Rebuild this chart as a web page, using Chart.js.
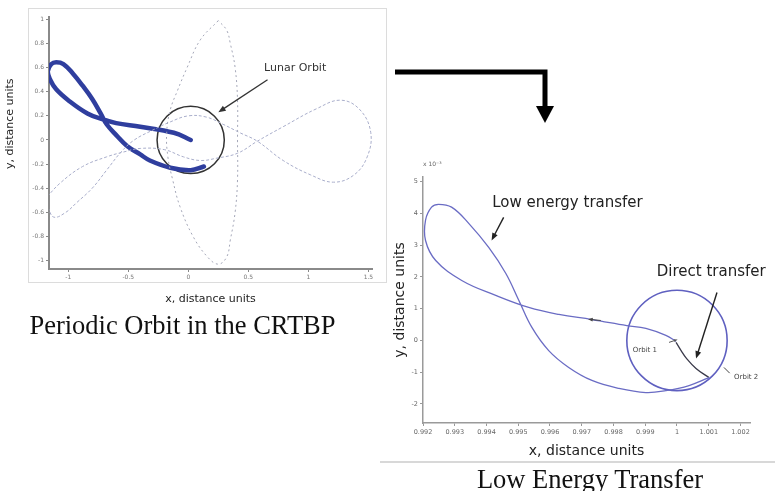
<!DOCTYPE html>
<html><head><meta charset="utf-8">
<script src="https://cdn.jsdelivr.net/npm/chart.js@4"></script>
<style>
html,body{margin:0;padding:0;background:#fff;}
body{width:775px;height:491px;position:relative;overflow:hidden;font-family:'DejaVu Sans',sans-serif;}
#leftFrame{position:absolute;left:28px;top:8px;width:357px;height:273px;border:1px solid #dcdcdc;}
#leftWrap{position:absolute;left:0;top:0;width:390px;height:310px;}
#rightWrap{position:absolute;left:380px;top:160px;width:395px;height:300px;}
#sep{position:absolute;left:380px;top:461px;width:395px;height:2px;background:#d8d8d8;}
.cap{position:absolute;font-family:'Liberation Serif','Times New Roman',serif;font-size:26.5px;line-height:26px;color:#111;white-space:nowrap;text-align:center;}
#bigArrow{position:absolute;left:0;top:0;}
</style></head><body>
<div id="leftFrame"></div>
<div id="leftWrap"><canvas id="leftChart" width="390" height="310"></canvas></div>
<div id="rightWrap"><canvas id="rightChart" width="395" height="300"></canvas></div>
<div id="sep"></div>
<svg id="bigArrow" width="775" height="491"><path d="M395 72 H545 V108" stroke="#000" stroke-width="5" fill="none"/><polygon points="536,106 554,106 545,123" fill="#000"/></svg>
<div class="cap" style="left:0;width:365px;top:312px;">Periodic Orbit in the CRTBP</div>
<div class="cap" style="left:380px;width:420px;top:466px;">Low Energy Transfer</div>
<script>
// ---------- Left panel: Periodic Orbit in the CRTBP ----------
const leftXTicks = [-1, -0.5, 0, 0.5, 1, 1.5];
const leftXTickLabels = ['-1', '-0.5', '0', '0.5', '1', '1.5'];
const leftYTicks = [1, 0.8, 0.6, 0.4, 0.2, 0, -0.2, -0.4, -0.6, -0.8, -1];
const leftYTickLabels = ['1', '0.8', '0.6', '0.4', '0.2', '0', '-0.2', '-0.4', '-0.6', '-0.8', '-1'];

// thick periodic orbit (figure-eight)
const periodicOrbitX = [0.02, -0.12, -0.4, -0.6, -0.71, -0.84, -1.0, -1.1, -1.15, -1.17, -1.14, -1.1, -1.04, -0.96, -0.88, -0.8, -0.73, -0.68, -0.6, -0.51, -0.4, -0.32, -0.15, 0.02, 0.13];
const periodicOrbitY = [0.0, 0.06, 0.11, 0.14, 0.17, 0.22, 0.33, 0.42, 0.5, 0.57, 0.63, 0.645, 0.63, 0.55, 0.45, 0.34, 0.22, 0.13, 0.04, -0.05, -0.12, -0.17, -0.23, -0.25, -0.22];

// faint lens-shaped orbit
const lensX = [0.25, 0.1, -0.01, -0.09, -0.15, -0.18, -0.17, -0.13, -0.07, 0.04, 0.16, 0.25, 0.32, 0.35, 0.39, 0.41, 0.41, 0.41, 0.39, 0.35, 0.32, 0.25];
const lensY = [0.99, 0.83, 0.6, 0.41, 0.25, 0.06, -0.14, -0.33, -0.55, -0.8, -0.97, -1.03, -0.97, -0.83, -0.6, -0.33, 0.0, 0.33, 0.6, 0.8, 0.91, 0.99];

// faint figure-eight orbit reaching to the right
const figure8X = [-1.17, -1.12, -1.02, -0.93, -0.8, -0.68, -0.56, -0.45, -0.3, -0.15, 0.0, 0.15, 0.29, 0.43, 0.575, 0.79, 1.02, 1.21, 1.38, 1.49, 1.52, 1.43, 1.27, 1.07, 0.79, 0.575, 0.41, 0.24, 0.1, -0.04, -0.2, -0.4, -0.54, -0.68, -0.88, -1.07, -1.2];
const figure8Y = [-0.56, -0.64, -0.6, -0.52, -0.4, -0.25, -0.1, 0.0, 0.08, 0.15, 0.2, 0.19, 0.13, 0.06, -0.01, -0.17, -0.29, -0.35, -0.29, -0.14, 0.06, 0.25, 0.33, 0.26, 0.11, -0.01, -0.11, -0.15, -0.17, -0.14, -0.08, -0.07, -0.1, -0.14, -0.22, -0.36, -0.5];

const lunarOrbitCenter = [0.02, 0.0];
const lunarOrbitRadius = 0.28;

// ---------- Right panel: Low Energy Transfer ----------
const rightXTicks = [0.992, 0.993, 0.994, 0.995, 0.996, 0.997, 0.998, 0.999, 1, 1.001, 1.002];
const rightXTickLabels = ['0.992', '0.993', '0.994', '0.995', '0.996', '0.997', '0.998', '0.999', '1', '1.001', '1.002'];
const rightYTicks = [5, 4, 3, 2, 1, 0, -1, -2];
const rightYTickLabels = ['5', '4', '3', '2', '1', '0', '-1', '-2'];

// y values in units of 1e-3
const lowEnergyX = [0.99997, 0.99965, 0.99902, 0.99842, 0.99732, 0.99628, 0.99533, 0.99429, 0.99322, 0.9924, 0.99208, 0.99208, 0.99227, 0.99249, 0.9929, 0.99344, 0.99407, 0.99461, 0.99502, 0.99543, 0.99596, 0.99659, 0.99732, 0.99817, 0.99902, 0.99965, 1.00038, 1.00101];
const lowEnergyY = [-0.03, 0.16, 0.38, 0.47, 0.66, 0.82, 1.04, 1.42, 1.89, 2.52, 3.15, 3.79, 4.2, 4.29, 4.2, 3.69, 2.93, 2.11, 1.26, 0.41, -0.32, -0.85, -1.26, -1.51, -1.64, -1.58, -1.42, -1.17];

const directX = [0.99997, 1.00013, 1.00028, 1.0006, 1.00101];
const directY = [-0.06, -0.32, -0.54, -0.88, -1.17];

const transferCircleCenter = [1.0, 0.0];
const transferCircleRadius = 0.00158;

// ---------- helpers ----------
const pts = (xs, ys) => xs.map((x, i) => ({x: x, y: ys[i]}));

const notesPlugin = {
  id: 'notes',
  afterDatasetsDraw(chart, args, opts) {
    const ctx = chart.ctx, sx = chart.scales.x, sy = chart.scales.y;
    const P = (p) => [sx.getPixelForValue(p[0]), sy.getPixelForValue(p[1])];
    ctx.save();
    (opts.lines || []).forEach(l => {
      const a = P(l.from), b = P(l.to);
      ctx.strokeStyle = l.color; ctx.lineWidth = l.width;
      ctx.beginPath(); ctx.moveTo(a[0], a[1]); ctx.lineTo(b[0], b[1]); ctx.stroke();
    });
    (opts.arrows || []).forEach(a => {
      const p1 = P(a.from), p2 = P(a.to);
      const ang = Math.atan2(p2[1] - p1[1], p2[0] - p1[0]);
      ctx.strokeStyle = a.color; ctx.fillStyle = a.color; ctx.lineWidth = a.width;
      ctx.beginPath(); ctx.moveTo(p1[0], p1[1]);
      ctx.lineTo(p2[0] - Math.cos(ang) * a.head * 0.7, p2[1] - Math.sin(ang) * a.head * 0.7); ctx.stroke();
      ctx.beginPath(); ctx.moveTo(p2[0], p2[1]);
      ctx.lineTo(p2[0] - a.head * Math.cos(ang - 0.38), p2[1] - a.head * Math.sin(ang - 0.38));
      ctx.lineTo(p2[0] - a.head * Math.cos(ang + 0.38), p2[1] - a.head * Math.sin(ang + 0.38));
      ctx.closePath(); ctx.fill();
    });
    (opts.texts || []).forEach(t => {
      const p = P(t.at);
      ctx.fillStyle = t.color;
      ctx.font = (t.weight || 'normal') + ' ' + t.size + 'px "DejaVu Sans", sans-serif';
      ctx.textAlign = t.align || 'center'; ctx.textBaseline = 'middle';
      ctx.fillText(t.text, p[0], p[1]);
    });
    ctx.restore();
  }
};

function circleRadius(center, r) {
  return (c) => {
    const s = c.chart.scales.x;
    return Math.abs(s.getPixelForValue(center[0] + r) - s.getPixelForValue(center[0]));
  };
}

function axis(opts) {
  return {
    type: 'linear', min: opts.min, max: opts.max,
    afterBuildTicks: (s) => { s.ticks = opts.ticks.map(v => ({value: v})); },
    afterFit: (s) => { if (opts.w !== undefined) s.width = opts.w; if (opts.h !== undefined) s.height = opts.h; },
    ticks: {
      autoSkip: false, maxRotation: 0, minRotation: 0, padding: 2,
      color: opts.tickColor, font: {size: opts.tickSize, family: 'DejaVu Sans'},
      callback: (v) => { const i = opts.ticks.indexOf(v); return i >= 0 ? opts.labels[i] : ''; }
    },
    grid: {drawOnChartArea: false, drawTicks: true, tickLength: 3, color: opts.gridColor},
    border: {color: opts.borderColor, width: opts.borderWidth},
    title: {display: true, text: opts.title, color: '#222', font: {size: opts.titleSize, family: 'DejaVu Sans'}, padding: opts.titlePad}
  };
}

Chart.defaults.animation = false;

new Chart(document.getElementById('leftChart'), {
  type: 'scatter',
  plugins: [notesPlugin],
  data: {
    datasets: [
      {label: 'lens', data: pts(lensX, lensY), showLine: true, tension: 0.4, pointRadius: 0, borderColor: '#a4a7b8', borderWidth: 1, borderDash: [2, 3]},
      {label: 'figure8', data: pts(figure8X, figure8Y), showLine: true, tension: 0.4, pointRadius: 0, borderColor: '#a9aecb', borderWidth: 1, borderDash: [3, 2]},
      {label: 'periodic orbit', data: pts(periodicOrbitX, periodicOrbitY), showLine: true, tension: 0.4, pointRadius: 0, borderColor: '#2f3e9e', borderWidth: 4.5, borderCapStyle: 'round'},
      {label: 'lunar orbit', data: [{x: lunarOrbitCenter[0], y: lunarOrbitCenter[1]}], showLine: false,
       pointRadius: circleRadius(lunarOrbitCenter, lunarOrbitRadius), pointBackgroundColor: 'rgba(0,0,0,0)', pointBorderColor: '#333', pointBorderWidth: 1.5}
    ]
  },
  options: {
    responsive: false, devicePixelRatio: 1, events: [],
    layout: {padding: {left: 0, right: 18, top: 17, bottom: 0}},
    plugins: {
      legend: {display: false}, tooltip: {enabled: false},
      notes: {
        texts: [{at: [0.89, 0.6], text: 'Lunar Orbit', size: 11, color: '#333'}],
        arrows: [{from: [0.66, 0.5], to: [0.25, 0.23], color: '#333', width: 1.3, head: 8}]
      }
    },
    scales: {
      x: axis({min: -1.16, max: 1.53, ticks: leftXTicks, labels: leftXTickLabels, h: 41, tickColor: '#777', tickSize: 6, gridColor: '#888', borderColor: '#8a8a8a', borderWidth: 2, title: 'x, distance units', titleSize: 11, titlePad: {top: 0, bottom: 4}}),
      y: axis({min: -1.07, max: 1.02, ticks: leftYTicks, labels: leftYTickLabels, w: 49, tickColor: '#777', tickSize: 6, gridColor: '#888', borderColor: '#8a8a8a', borderWidth: 2, title: '           y, distance units', titleSize: 11, titlePad: {top: 4, bottom: 0}})
    }
  }
});

new Chart(document.getElementById('rightChart'), {
  type: 'scatter',
  plugins: [notesPlugin],
  data: {
    datasets: [
      {label: 'low energy transfer', data: pts(lowEnergyX, lowEnergyY), showLine: true, tension: 0.4, pointRadius: 0, borderColor: '#6a6cc4', borderWidth: 1.3},
      {label: 'direct transfer', data: pts(directX, directY), showLine: true, tension: 0.4, pointRadius: 0, borderColor: '#3a3a4a', borderWidth: 1.3},
      {label: 'orbit 2', data: [{x: transferCircleCenter[0], y: transferCircleCenter[1]}], showLine: false,
       pointRadius: circleRadius(transferCircleCenter, transferCircleRadius), pointBackgroundColor: 'rgba(0,0,0,0)', pointBorderColor: '#5f60c0', pointBorderWidth: 1.6}
    ]
  },
  options: {
    responsive: false, devicePixelRatio: 1, events: [],
    layout: {padding: {left: 8, right: 25, top: 17, bottom: 0}},
    plugins: {
      legend: {display: false}, tooltip: {enabled: false},
      notes: {
        texts: [
          {at: [0.99655, 4.32], text: 'Low energy transfer', size: 15, color: '#222'},
          {at: [1.00108, 2.15], text: 'Direct transfer', size: 15, color: '#222'},
          {at: [0.99899, -0.32], text: 'Orbit 1', size: 7, color: '#444'},
          {at: [1.00218, -1.17], text: 'Orbit 2', size: 7, color: '#444'},
          {at: [0.992, 5.55], text: 'x 10\u207B\u00B3', size: 6, color: '#666', align: 'left'}
        ],
        arrows: [
          {from: [0.99454, 3.88], to: [0.99416, 3.15], color: '#222', width: 1.4, head: 8},
          {from: [1.00126, 1.51], to: [1.0006, -0.57], color: '#222', width: 1.4, head: 8},
          {from: [0.9976, 0.63], to: [0.9972, 0.67], color: '#444', width: 1, head: 5},
          {from: [0.99975, -0.06], to: [1.00002, 0.03], color: '#555', width: 1, head: 4}
        ],
        lines: [{from: [1.00148, -0.85], to: [1.00166, -1.03], color: '#444', width: 1}]
      }
    },
    scales: {
      x: axis({min: 0.992, max: 1.0023, ticks: rightXTicks, labels: rightXTickLabels, h: 37, tickColor: '#666', tickSize: 6.5, gridColor: '#999', borderColor: '#9a9a9a', borderWidth: 1.5, title: 'x, distance units', titleSize: 14, titlePad: {top: 0, bottom: 0}}),
      y: axis({min: -2.6, max: 5.15, ticks: rightYTicks, labels: rightYTickLabels, w: 35, tickColor: '#666', tickSize: 6.5, gridColor: '#999', borderColor: '#9a9a9a', borderWidth: 1.5, title: 'y, distance units', titleSize: 14, titlePad: {top: 4, bottom: 0}})
    }
  }
});
</script>
</body></html>
